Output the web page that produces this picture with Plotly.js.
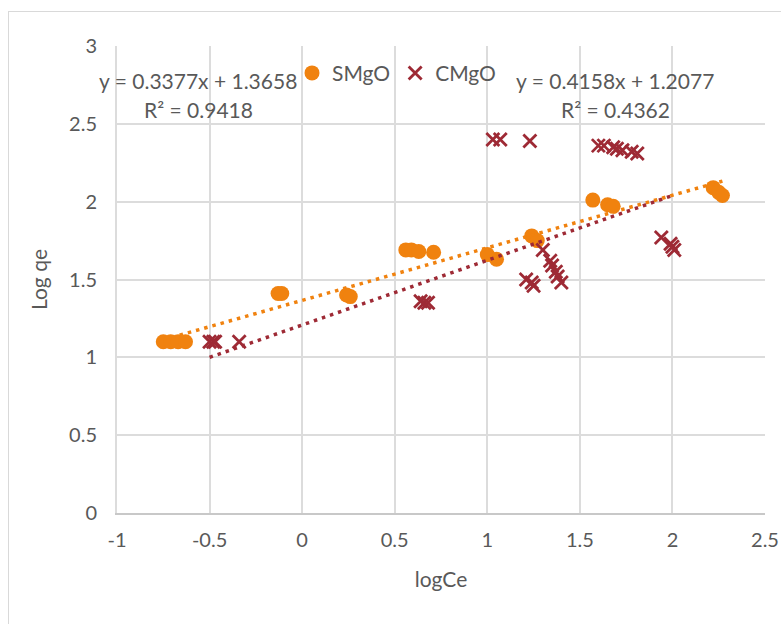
<!DOCTYPE html>
<html>
<head>
<meta charset="utf-8">
<script src="https://cdn.plot.ly/plotly-3.0.1.min.js"></script>
<style>
  html, body { margin: 0; padding: 0; background: #fff; }
  #frame { position: absolute; left: 8px; top: 11px; width: 800px; height: 700px;
           border-left: 1px solid #D9D9D9; border-top: 1px solid #D9D9D9; }
  #chart { position: absolute; left: 0; top: 0; width: 781px; height: 624px; }
</style>
</head>
<body>
<div id="frame"></div>
<div id="chart"></div>
<script>
// ---- data ----
const smgoX = [-0.75, -0.71, -0.67, -0.63, -0.13, -0.11, 0.24, 0.26, 0.56, 0.59, 0.63, 0.71,
               1.00, 1.05, 1.24, 1.27, 1.57, 1.65, 1.68, 2.22, 2.25, 2.27];
const smgoY = [1.10, 1.10, 1.10, 1.10, 1.41, 1.41, 1.40, 1.39, 1.69, 1.69, 1.68, 1.675,
               1.66, 1.63, 1.78, 1.75, 2.01, 1.98, 1.97, 2.09, 2.06, 2.04];

const cmgoX = [-0.50, -0.48, -0.47, -0.34, 0.64, 0.66, 0.68, 1.03, 1.07, 1.23,
               1.60, 1.63, 1.68, 1.70, 1.73, 1.78, 1.81,
               1.21, 1.24, 1.25, 1.30, 1.34, 1.35, 1.37, 1.38, 1.40,
               1.94, 1.99, 2.00, 2.01];
const cmgoY = [1.10, 1.10, 1.10, 1.10, 1.36, 1.35, 1.35, 2.40, 2.40, 2.39,
               2.36, 2.36, 2.35, 2.34, 2.33, 2.32, 2.31,
               1.50, 1.48, 1.46, 1.69, 1.62, 1.59, 1.55, 1.52, 1.48,
               1.77, 1.73, 1.71, 1.69];

const seriesNames = ["SMgO", "CMgO"];
const trendSlopes = [0.3377, 0.4158];
const trendIntercepts = [1.3658, 1.2077];
const trendR2 = ["0.9418", "0.4362"];

const xTicks = [-1, -0.5, 0, 0.5, 1, 1.5, 2, 2.5];
const yTicks = [0, 0.5, 1, 1.5, 2, 2.5, 3];

// ---- styling ----
const orange = "#F0820F";
const darkRed = "#9E2A35";
const textGray = "#595959";
const gridGray = "#DCDCDC";
const fontFam = "Lato, 'Open Sans', sans-serif";

function trendTrace(xs, m, b, color) {
  const tx = [Math.min(...xs), Math.max(...xs)];
  const ty = tx.map(v => m * v + b);
  return { x: tx, y: ty, mode: "lines", type: "scatter", showlegend: false, hoverinfo: "skip",
           line: { color: color, width: 3.5, dash: "3.5px,5px" } };
}

const traces = [
  { x: smgoX, y: smgoY, name: seriesNames[0], mode: "markers", type: "scatter",
    marker: { color: orange, size: 15, symbol: "circle" } },
  { x: cmgoX, y: cmgoY, name: seriesNames[1], mode: "markers", type: "scatter",
    marker: { color: darkRed, size: 13, symbol: "x-thin", line: { color: darkRed, width: 2.8 } } },
  trendTrace(smgoX, trendSlopes[0], trendIntercepts[0], orange),
  trendTrace(cmgoX, trendSlopes[1], trendIntercepts[1], darkRed)
];

function fmtSigned(b) { return (b >= 0 ? "+ " : "- ") + Math.abs(b).toFixed(4); }

const annFont = { size: 21, color: textGray };
const layout = {
  width: 781, height: 624,
  paper_bgcolor: "rgba(0,0,0,0)", plot_bgcolor: "rgba(0,0,0,0)",
  margin: { l: 117, r: 16, t: 46, b: 111 },
  font: { family: fontFam, color: textGray, size: 20 },
  showlegend: true,
  legend: { orientation: "h", x: (292 - 117) / 648, y: 2.825 / 3, xanchor: "left", yanchor: "middle",
            font: { size: 21, color: textGray }, bgcolor: "rgba(0,0,0,0)", itemwidth: 30, tracegroupgap: 0 },
  xaxis: {
    range: [-1, 2.5], tickvals: xTicks, ticktext: xTicks.map(String),
    showgrid: true, gridcolor: gridGray, gridwidth: 2,
    zeroline: false, showline: true, linecolor: "#C8C8C8", linewidth: 2,
    ticks: "", tickfont: { size: 20, color: textGray }, ticklabelstandoff: 8,
    title: { text: "logCe", font: { size: 21, color: textGray }, standoff: 22 }
  },
  yaxis: {
    range: [0, 3], tickvals: yTicks, ticktext: yTicks.map(String),
    showgrid: true, gridcolor: gridGray, gridwidth: 2,
    zeroline: false, showline: true, linecolor: gridGray, linewidth: 2,
    ticks: "", tickfont: { size: 20, color: textGray }, ticklabelstandoff: 14,
    title: { text: "Log qe", font: { size: 21, color: textGray }, standoff: 16 }
  },
  annotations: [
    { x: -0.56, y: 2.78, xref: "x", yref: "y", showarrow: false, align: "center",
      text: "y = " + trendSlopes[0] + "x " + fmtSigned(trendIntercepts[0]), font: annFont },
    { x: -0.56, y: 2.59, xref: "x", yref: "y", showarrow: false, align: "center",
      text: "R² = " + trendR2[0], font: annFont },
    { x: 1.69, y: 2.78, xref: "x", yref: "y", showarrow: false, align: "center",
      text: "y = " + trendSlopes[1] + "x " + fmtSigned(trendIntercepts[1]), font: annFont },
    { x: 1.69, y: 2.59, xref: "x", yref: "y", showarrow: false, align: "center",
      text: "R² = " + trendR2[1], font: annFont }
  ]
};

Plotly.newPlot("chart", traces, layout, { displayModeBar: false, staticPlot: true });
</script>
</body>
</html>
